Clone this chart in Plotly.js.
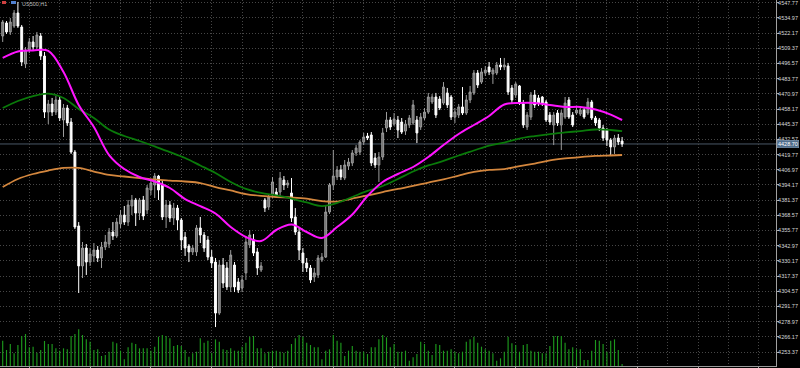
<!DOCTYPE html>
<html><head><meta charset="utf-8">
<script src="https://cdn.plot.ly/plotly-3.0.1.min.js"></script>
<style>html,body{margin:0;padding:0;background:#000;overflow:hidden}#chart{width:800px;height:368px}</style>
</head><body><div id="chart"></div>
<script>
const openP=[4519.7,4530.7,4523.1,4528.1,4539.1,4527.3,4496.1,4507.9,4514.7,4510.4,
4519.7,4502.8,4455.6,4462.4,4455.6,4465.8,4448.9,4459.0,4447.2,4421.9,
4359.6,4325.9,4341.0,4329.2,4334.3,4339.3,4332.6,4341.9,4344.4,4354.5,
4351.1,4361.3,4368.8,4362.9,4376.4,4381.5,4370.5,4381.5,4373.1,4389.9,
4394.1,4401.7,4395.0,4367.2,4377.3,4366.3,4374.7,4364.6,4350.3,4342.7,
4337.7,4337.7,4357.9,4352.0,4347.8,4333.4,4329.2,4286.2,4326.7,4324.2,
4308.2,4326.7,4312.4,4307.3,4320.0,4343.6,4347.8,4337.7,4322.5,4381.5,
4375.6,4385.7,4388.2,4388.2,4398.3,4394.1,4387.4,4367.2,4354.5,4336.8,
4328.4,4324.2,4316.6,4318.3,4330.9,4333.4,4371.4,4394.1,4400.9,4406.8,
4400.0,4410.1,4412.7,4421.1,4421.9,4430.4,4435.4,4436.3,4416.9,4411.0,
4417.7,4442.2,4448.9,4445.5,4448.9,4447.2,4439.6,4444.7,4446.4,4448.9,
4443.0,4450.6,4455.6,4464.1,4468.3,4466.6,4463.2,4471.7,4468.3,4451.4,
4453.1,4459.9,4454.8,4465.8,4471.7,4488.5,4480.9,4488.5,4493.6,4487.7,
4488.5,4495.3,4493.6,4494.4,4475.9,4470.0,4477.6,4462.4,4443.0,4451.4,
4470.0,4467.5,4468.3,4464.1,4453.1,4444.7,4454.8,4444.7,4451.4,4465.8,
4453.1,4454.8,4454.0,4457.3,4454.8,4464.1,4450.6,4448.9,4442.2,4440.5,
4432.0,4426.2,4433.7,4431.2];
const highP=[4533.2,4532.3,4534.9,4541.6,4548.4,4529.0,4510.4,4518.0,4519.7,4523.1,
4522.2,4506.2,4465.8,4467.5,4469.1,4468.3,4462.4,4461.6,4450.6,4423.6,
4362.9,4346.1,4344.4,4341.0,4345.2,4342.7,4346.1,4352.0,4357.9,4362.9,
4366.3,4373.1,4376.4,4381.5,4385.7,4383.2,4383.2,4384.9,4394.1,4398.3,
4404.2,4402.6,4398.3,4381.5,4380.6,4379.0,4377.3,4366.3,4354.5,4344.4,
4343.6,4360.4,4367.2,4354.5,4351.1,4339.3,4332.6,4330.9,4332.6,4329.2,
4339.3,4329.2,4315.7,4318.3,4349.5,4356.2,4352.8,4341.0,4329.2,4383.2,
4386.5,4400.9,4391.6,4405.1,4401.7,4398.3,4400.0,4374.7,4357.9,4341.0,
4332.6,4326.7,4324.2,4335.1,4336.8,4377.3,4395.8,4423.6,4410.1,4411.0,
4415.2,4416.9,4423.6,4427.8,4432.0,4438.0,4438.0,4438.8,4421.1,4421.9,
4442.2,4455.7,4451.4,4454.8,4452.3,4450.6,4448.9,4453.1,4465.8,4452.3,
4454.8,4459.0,4471.7,4470.8,4471.7,4469.1,4480.9,4475.9,4470.0,4459.0,
4462.4,4476.7,4470.0,4477.6,4491.0,4491.0,4492.7,4494.4,4497.8,4492.7,
4497.8,4501.2,4501.2,4497.0,4478.4,4480.9,4478.4,4465.8,4455.6,4472.5,
4474.2,4470.0,4469.1,4465.8,4455.6,4455.6,4457.3,4457.3,4468.3,4468.3,
4455.6,4459.9,4460.7,4459.9,4467.5,4465.8,4452.3,4450.6,4444.7,4442.2,
4433.7,4436.3,4437.1,4434.6];
const lowP=[4514.7,4521.4,4520.6,4526.5,4526.5,4494.4,4492.7,4505.4,4507.9,4508.8,
4499.5,4450.6,4445.5,4452.3,4453.1,4448.1,4434.6,4443.9,4420.3,4357.0,
4303.1,4315.7,4318.3,4325.9,4329.2,4329.2,4324.2,4339.3,4341.0,4347.8,
4349.5,4357.9,4360.4,4359.6,4368.8,4359.6,4364.6,4364.6,4369.7,4385.7,
4383.2,4381.5,4364.6,4357.9,4362.9,4360.4,4356.2,4339.3,4334.3,4329.2,
4335.1,4334.3,4345.2,4337.7,4330.9,4324.2,4274.4,4284.6,4307.3,4305.6,
4303.9,4303.9,4303.1,4303.9,4314.1,4341.0,4334.3,4318.3,4320.8,4371.4,
4373.1,4383.2,4383.2,4384.9,4389.9,4391.6,4362.9,4352.0,4330.9,4320.8,
4320.8,4311.5,4312.4,4315.7,4329.2,4332.6,4369.7,4389.9,4398.3,4398.3,
4398.3,4406.8,4410.1,4418.6,4419.4,4427.8,4432.0,4410.1,4408.5,4396.7,
4415.2,4438.8,4440.5,4443.9,4433.7,4437.1,4436.3,4442.2,4444.7,4429.5,
4440.5,4448.9,4454.0,4462.4,4450.6,4457.3,4461.6,4459.0,4448.9,4446.4,
4450.6,4453.1,4453.1,4463.2,4470.0,4475.9,4479.3,4486.0,4486.8,4479.3,
4486.8,4491.0,4491.0,4470.0,4463.2,4467.5,4461.6,4442.2,4440.5,4448.9,
4459.0,4460.7,4460.7,4447.2,4444.7,4427.8,4443.9,4423.6,4449.8,4449.8,
4443.0,4453.1,4452.3,4449.8,4453.1,4448.9,4443.9,4439.6,4431.2,4427.0,
4418.6,4420.3,4427.8,4426.2];
const closeP=[4531.5,4523.1,4531.5,4539.1,4528.1,4497.8,4507.9,4514.7,4510.4,4520.6,
4502.8,4455.6,4462.4,4455.6,4465.8,4450.6,4459.0,4446.4,4421.9,4358.7,
4325.9,4341.0,4329.2,4336.0,4339.3,4332.6,4341.9,4346.1,4354.5,4351.1,
4362.9,4368.8,4362.9,4377.3,4381.5,4370.5,4381.5,4368.0,4391.6,4395.8,
4401.7,4389.9,4367.2,4377.3,4366.3,4374.7,4364.6,4347.8,4341.0,4337.7,
4341.0,4357.9,4352.0,4341.0,4333.4,4328.4,4286.2,4326.7,4311.5,4308.2,
4335.1,4308.2,4305.6,4314.1,4346.1,4352.0,4336.8,4324.2,4325.9,4374.7,
4384.0,4396.7,4385.7,4400.0,4394.1,4395.8,4366.3,4354.5,4339.3,4328.4,
4324.2,4314.1,4320.0,4332.6,4333.4,4371.4,4394.1,4401.7,4406.8,4400.9,
4411.0,4413.5,4421.1,4425.3,4430.4,4434.6,4433.7,4412.7,4411.0,4417.7,
4438.0,4448.9,4443.0,4449.8,4440.5,4438.8,4445.5,4450.6,4461.6,4438.0,
4451.4,4455.6,4468.3,4468.3,4453.1,4459.0,4476.7,4461.6,4451.4,4455.6,
4459.9,4454.8,4465.8,4472.5,4488.5,4478.4,4489.4,4491.0,4489.4,4491.0,
4495.3,4493.6,4495.3,4472.5,4465.8,4479.3,4464.1,4444.7,4453.1,4470.0,
4461.6,4463.2,4463.2,4448.9,4447.2,4453.1,4446.4,4454.8,4463.2,4451.4,
4444.7,4457.3,4457.3,4451.4,4464.1,4450.6,4446.4,4442.2,4433.7,4432.0,
4426.2,4433.7,4430.4,4428.7];
const volumes=[3800,2400,3300,1900,3150,4500,4800,2800,2900,2000,
2400,3750,3300,3300,2650,2300,2650,2500,4500,4800,
5500,4650,4000,3650,2400,2500,1500,1650,2150,3650,
3400,2300,1000,2800,3500,3300,2650,2650,2650,2300,
2900,4400,4650,4500,4150,3000,3150,3000,2400,1400,
1900,2150,4150,3500,3800,2000,4000,3650,2500,2400,
2650,2300,2300,2900,3500,4400,4500,2650,2650,1900,
2150,2300,2300,2150,2000,2300,3300,4150,4650,4400,
3500,3150,2800,2800,
1000,2300,2500,4650,3800,3500,1500,2300,3000,2300,
2150,2150,1800,2800,2800,4000,4650,4300,2800,3300,
2150,2150,2300,800,1300,1800,3650,3300,2300,1650,
3300,3150,2300,2300,2500,2150,1900,2150,3650,4000,
4400,3500,2900,2500,2300,1900,800,1150,2150,4400,
3400,3150,2150,3150,3300,2300,2150,2150,1900,1900,
3000,4500,4500,4500,3500,2500,2800,2500,2500,900,
900,2300,3900,3800,3300,2150,3800,4000,2400,300];
const maIdx=[0,4,8,12,16,20,24,28,32,36,40,44,48,52,56,60,64,68,72,76,80,84,88,92,96,100,104,108,112,116,120,124,128,132,136,140,144,148,152,156,160,163];
const maFast=[4501.2,4506.6,4507.5,4507.1,4489.4,4461.6,4443.0,4419.4,4407.6,4400.9,4397.1,4391.6,4382.3,4376.4,4370.1,4358.7,4350.3,4346.9,4356.2,4360.8,4354.5,4349.5,4358.7,4369.3,4384.9,4396.7,4403.4,4409.3,4417.7,4427.8,4437.1,4444.7,4452.3,4462.0,4463.2,4463.2,4461.6,4459.9,4459.9,4457.8,4453.5,4448.9];
const maMid=[4459.0,4464.9,4469.1,4471.2,4467.5,4458.2,4450.6,4440.9,4435.4,4431.2,4426.6,4421.9,4416.9,4410.6,4404.2,4396.7,4390.8,4387.4,4385.3,4382.7,4379.4,4376.4,4379.0,4384.0,4389.1,4393.3,4399.2,4405.5,4410.6,4414.4,4419.0,4423.2,4427.4,4429.9,4433.3,4435.4,4437.1,4438.4,4439.6,4440.9,4440.5,4439.6];
const maSlow=[4392.4,4399.2,4403.4,4406.3,4408.5,4408.5,4405.5,4402.6,4401.3,4400.0,4398.8,4397.9,4397.1,4395.8,4392.4,4389.5,4386.5,4384.9,4384.0,4383.6,4382.7,4380.6,4380.2,4382.7,4385.3,4388.2,4390.8,4393.3,4396.2,4398.8,4402.1,4405.1,4406.8,4407.6,4410.1,4412.2,4414.8,4416.5,4417.7,4418.6,4419.0,4419.4];
const yTicks=[4253.37,4266.17,4278.97,4291.77,4304.57,4317.37,4330.17,4342.97,4355.77,4368.57,4381.37,4394.17,4406.97,4419.77,4432.57,4445.37,4458.17,4470.97,4483.77,4496.57,4509.37,4522.17,4534.97,4547.77];
const symbolText="US500,H1";

const bars=openP.map((_,i)=>i);
const lastPrice=closeP[closeP.length-1];
const labelFont={family:'Liberation Sans Narrow, Liberation Sans, Arial, sans-serif',size:5.5,color:'#d8d8d8'};
const gridCol='#464646', gridDash='1px,2px';

const traces=[
 {type:'bar',x:bars,y:volumes,yaxis:'y2',width:0.3,marker:{color:'#1d9a1d',line:{width:0}},hoverinfo:'skip'},
 {type:'candlestick',x:bars,open:openP,high:highP,low:lowP,close:closeP,whiskerwidth:0,
  increasing:{line:{color:'#9c9c9c',width:1},fillcolor:'#6c6c6c'},
  decreasing:{line:{color:'#ffffff',width:1},fillcolor:'#ffffff'},hoverinfo:'skip'},
 {type:'scatter',mode:'lines',x:maIdx,y:maSlow,line:{color:'#d4873e',width:1.8,shape:'spline'},hoverinfo:'skip'},
 {type:'scatter',mode:'lines',x:maIdx,y:maMid,line:{color:'#0a7a0a',width:1.8,shape:'spline'},hoverinfo:'skip'},
 {type:'scatter',mode:'lines',x:maIdx,y:maFast,line:{color:'#ff14ff',width:2,shape:'spline'},hoverinfo:'skip'}
];
const layout={
 width:800,height:368,paper_bgcolor:'#000',plot_bgcolor:'#000',showlegend:false,
 margin:{l:0,r:24,t:0,b:2},
 xaxis:{range:[-0.71,203.5],tickmode:'linear',tick0:7,dtick:16,ticks:'outside',ticklen:3,tickcolor:'#aaaaaa',
   showticklabels:false,showgrid:true,gridcolor:gridCol,griddash:gridDash,gridwidth:1,
   minor:{tick0:7,dtick:8,showgrid:true,gridcolor:gridCol,griddash:gridDash,ticks:''},
   showline:true,linecolor:'#9a9a9a',zeroline:false,rangeslider:{visible:false},fixedrange:true},
 yaxis:{side:'right',range:[4241.58,4550.05],tickmode:'array',tickvals:yTicks,ticktext:yTicks.map(v=>v.toFixed(2)),
   ticks:'outside',ticklen:2,tickcolor:'#aaaaaa',tickfont:labelFont,ticklabelstandoff:-2,ticklabeloverflow:'allow',
   showgrid:true,gridcolor:gridCol,griddash:gridDash,gridwidth:1,showline:true,linecolor:'#a0a0a0',zeroline:false,automargin:false,fixedrange:true},
 yaxis2:{overlaying:'y',range:[0,54900],visible:false,fixedrange:true},
 shapes:[
  {type:'line',xref:'paper',x0:0,x1:1,yref:'y',y0:lastPrice,y1:lastPrice,line:{color:'#4a5866',width:1},layer:'below'},
  {type:'rect',xref:'paper',yref:'paper',x0:2/776,x1:6/776,y0:1-4/366,y1:1-1/366,fillcolor:'#d04040',line:{width:0}},
  {type:'rect',xref:'paper',yref:'paper',x0:11/776,x1:16/776,y0:1-4/366,y1:1-1/366,fillcolor:'#5080d0',line:{width:0}}
 ],
 annotations:[
  {xref:'paper',x:1,xanchor:'left',xshift:1,yref:'y',y:lastPrice,yanchor:'middle',text:lastPrice.toFixed(2),showarrow:false,
   font:{family:labelFont.family,size:5.5,color:'#ffffff'},bgcolor:'#4f6d8c',bordercolor:'#8aa4c0',borderwidth:0.5,borderpad:0.5},
  {xref:'paper',x:20/776,xanchor:'left',yref:'paper',y:1,yanchor:'top',yshift:1,text:symbolText,showarrow:false,
   font:{family:'Liberation Sans, Arial, sans-serif',size:5.5,color:'#bbbbbb'}}
 ]
};
Plotly.newPlot('chart',traces,layout,{staticPlot:true,displayModeBar:false});
</script></body></html>
